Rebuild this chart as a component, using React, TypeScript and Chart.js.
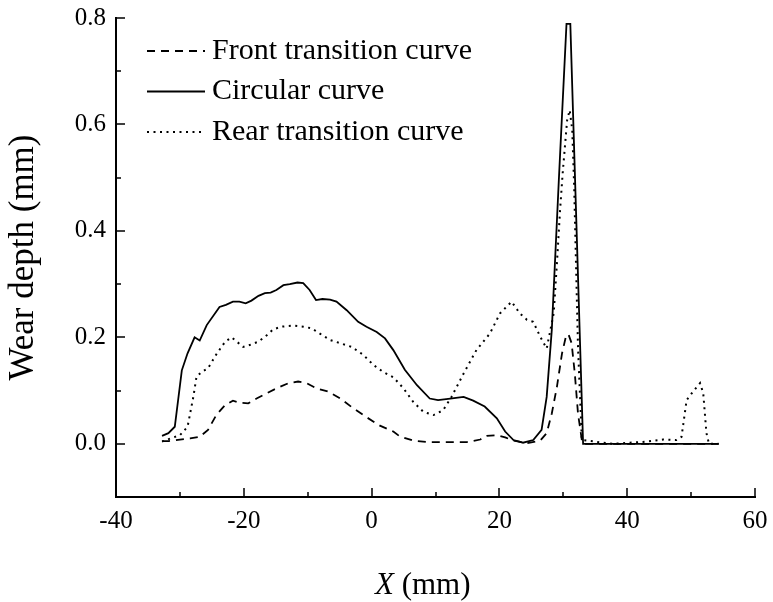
import React, { useEffect, useRef } from "react";
import { Chart, registerables } from "chart.js";

Chart.register(...registerables);

const FONT = '"Liberation Serif", "Times New Roman", serif';

// Front transition curve (dashed)
const frontX = [-32.8, -31.8, -30.0, -28.4, -26.9, -25.6, -24.3, -22.9, -21.7, -20.6, -19.3, -18.0, -16.4, -14.9, -13.0, -11.5, -10.2, -8.6, -6.8, -4.9, -2.9, -0.8, 1.3, 3.4, 4.4, 6.5, 9.1, 11.8, 14.9, 17.0, 18.0, 19.6, 20.9, 22.2, 24.3, 26.4, 27.4, 28.2, 29.0, 29.8, 30.4, 30.8, 31.3, 31.8, 32.3, 32.9, 33.1, 54.3];
const frontY = [0.005, 0.005, 0.008, 0.010, 0.013, 0.026, 0.054, 0.073, 0.081, 0.077, 0.076, 0.085, 0.095, 0.104, 0.114, 0.117, 0.114, 0.104, 0.098, 0.085, 0.067, 0.050, 0.034, 0.023, 0.014, 0.006, 0.003, 0.003, 0.003, 0.008, 0.015, 0.016, 0.012, 0.006, 0.001, 0.006, 0.020, 0.057, 0.107, 0.170, 0.201, 0.206, 0.189, 0.132, 0.057, 0.007, 0.0, 0.0];

// Circular curve (solid)
const circX = [-32.8, -31.8, -30.8, -29.7, -28.8, -27.7, -26.9, -25.8, -23.8, -22.8, -21.7, -20.7, -19.7, -18.8, -17.7, -16.7, -15.8, -14.9, -13.8, -12.8, -11.6, -10.7, -9.7, -8.7, -7.7, -6.5, -5.5, -3.9, -2.1, -0.8, 0.8, 2.1, 3.4, 5.2, 7.1, 9.1, 10.4, 12.3, 14.4, 15.9, 17.7, 19.6, 20.9, 22.2, 23.7, 25.3, 26.6, 27.4, 28.2, 29.3, 30.5, 31.1, 33.1, 54.3];
const circY = [0.015, 0.020, 0.032, 0.138, 0.170, 0.200, 0.194, 0.223, 0.257, 0.261, 0.267, 0.267, 0.264, 0.269, 0.278, 0.283, 0.284, 0.289, 0.298, 0.300, 0.303, 0.302, 0.289, 0.270, 0.272, 0.271, 0.267, 0.251, 0.229, 0.220, 0.210, 0.198, 0.176, 0.139, 0.110, 0.085, 0.082, 0.085, 0.088, 0.081, 0.070, 0.048, 0.023, 0.007, 0.002, 0.007, 0.026, 0.088, 0.214, 0.495, 0.789, 0.789, 0.0, 0.0];

// Rear transition curve (dotted)
const rearX = [-32.8, -31.5, -30.0, -28.8, -27.9, -27.4, -26.6, -25.6, -24.2, -22.9, -21.9, -21.1, -20.1, -19.0, -17.7, -16.4, -15.4, -14.1, -12.3, -10.7, -9.4, -8.1, -6.5, -4.9, -3.1, -1.3, 0.3, 1.8, 3.4, 5.0, 6.5, 8.1, 9.7, 11.2, 12.5, 14.4, 16.4, 18.5, 20.1, 21.9, 23.2, 24.3, 25.3, 26.4, 27.4, 28.5, 29.0, 29.5, 29.9, 30.6, 31.0, 31.4, 31.7, 32.3, 32.9, 37.8, 40.4, 43.0, 45.6, 47.7, 48.5, 49.3, 50.3, 51.4, 51.9, 52.4, 52.8, 54.3];
const rearY = [0.004, 0.010, 0.016, 0.032, 0.088, 0.126, 0.135, 0.142, 0.170, 0.192, 0.200, 0.192, 0.182, 0.186, 0.192, 0.204, 0.215, 0.220, 0.222, 0.220, 0.217, 0.207, 0.195, 0.189, 0.182, 0.167, 0.148, 0.135, 0.125, 0.104, 0.079, 0.060, 0.054, 0.063, 0.088, 0.132, 0.176, 0.207, 0.245, 0.267, 0.245, 0.233, 0.229, 0.201, 0.179, 0.245, 0.339, 0.440, 0.508, 0.608, 0.627, 0.590, 0.483, 0.182, 0.007, 0.0, 0.002, 0.004, 0.008, 0.007, 0.013, 0.082, 0.098, 0.114, 0.095, 0.020, 0.0, 0.0];

const seriesLabels = ["Front transition curve", "Circular curve", "Rear transition curve"];
const xAxisRange = [-40, 60];
const yAxisRange = [-0.1, 0.8];

const toPoints = (xs: number[], ys: number[]) => xs.map((x, i) => ({ x, y: ys[i] }));

const decorPlugin = {
  id: "decor",
  afterDraw(chart: any) {
    const ctx = chart.ctx as CanvasRenderingContext2D;
    const xs = chart.scales.x;
    const ys = chart.scales.y;
    const { left, bottom } = chart.chartArea;
    ctx.save();
    // inward tick marks
    ctx.strokeStyle = "#000";
    ctx.lineWidth = 1.5;
    ctx.setLineDash([]);
    ctx.beginPath();
    xs.ticks.forEach((t: any) => {
      const v = t.value;
      if (Math.abs(v - xs.min) < 1e-6) return;
      const p = Math.round(xs.getPixelForValue(v));
      const len = Math.round(v) % 20 === 0 ? 9 : 5;
      ctx.moveTo(p, bottom);
      ctx.lineTo(p, bottom - len);
    });
    ys.ticks.forEach((t: any) => {
      const v = t.value;
      if (Math.abs(v - ys.min) < 1e-6) return;
      const p = Math.round(ys.getPixelForValue(v));
      const len = Math.round(v * 10) % 2 === 0 ? 9 : 5;
      ctx.moveTo(left, p);
      ctx.lineTo(left + len, p);
    });
    ctx.stroke();

    // legend
    chart.data.datasets.forEach((ds: any, i: number) => {
      const y = 51 + i * 40.5;
      ctx.beginPath();
      ctx.strokeStyle = ds.borderColor;
      ctx.lineWidth = ds.borderWidth;
      ctx.setLineDash(ds.borderDash || []);
      ctx.moveTo(left + 31, y);
      ctx.lineTo(left + 89, y);
      ctx.stroke();
      ctx.setLineDash([]);
      ctx.fillStyle = "#000";
      ctx.font = `30px ${FONT}`;
      ctx.textBaseline = "middle";
      ctx.textAlign = "left";
      ctx.fillText(ds.label, left + 96, y);
    });

    // x axis title with italic X
    ctx.fillStyle = "#000";
    ctx.textBaseline = "alphabetic";
    ctx.textAlign = "left";
    ctx.font = `italic 31px ${FONT}`;
    const x0 = 375;
    const yb = 594;
    ctx.fillText("X", x0, yb);
    const w = ctx.measureText("X").width;
    ctx.font = `31px ${FONT}`;
    ctx.fillText(" (mm)", x0 + w, yb);
    ctx.restore();
  },
};

export default function App() {
  const ref = useRef<HTMLCanvasElement | null>(null);
  useEffect(() => {
    if (!ref.current) return;
    const chart = new Chart(ref.current, {
      type: "line",
      data: {
        datasets: [
          {
            label: seriesLabels[0],
            data: toPoints(frontX, frontY),
            borderColor: "#000",
            borderWidth: 1.8,
            borderDash: [8, 6],
            pointRadius: 0,
            tension: 0,
            fill: false,
          },
          {
            label: seriesLabels[1],
            data: toPoints(circX, circY),
            borderColor: "#000",
            borderWidth: 1.8,
            pointRadius: 0,
            tension: 0,
            fill: false,
          },
          {
            label: seriesLabels[2],
            data: toPoints(rearX, rearY),
            borderColor: "#000",
            borderWidth: 2,
            borderDash: [2, 4.5],
            pointRadius: 0,
            tension: 0,
            fill: false,
          },
        ],
      },
      options: {
        responsive: false,
        animation: false,
        events: [],
        layout: { padding: { left: 0, top: 18, right: 18, bottom: 0 } },
        plugins: {
          legend: { display: false },
          tooltip: { enabled: false },
          title: { display: false },
        },
        scales: {
          x: {
            type: "linear",
            min: xAxisRange[0],
            max: xAxisRange[1],
            grid: { display: false, drawTicks: false },
            border: { display: true, color: "#000", width: 2 },
            ticks: {
              stepSize: 10,
              autoSkip: false,
              maxRotation: 0,
              padding: 9,
              color: "#000",
              font: { family: FONT, size: 25 },
              callback: (v: any) => (Math.round(v) % 20 === 0 ? String(v) : ""),
            },
            title: { display: false },
            afterFit: (s: any) => {
              s.height = 105;
              s.paddingLeft = 0;
              s.paddingRight = 0;
              s.paddingTop = 0;
              s.paddingBottom = 0;
            },
          },
          y: {
            type: "linear",
            min: yAxisRange[0],
            max: yAxisRange[1],
            grid: { display: false, drawTicks: false },
            border: { display: true, color: "#000", width: 2 },
            ticks: {
              stepSize: 0.1,
              autoSkip: false,
              padding: 10,
              color: "#000",
              font: { family: FONT, size: 25 },
              callback: (v: any) => {
                const n = Math.round(v * 10);
                return n >= 0 && n % 2 === 0 ? (n / 10).toFixed(1) : "";
              },
            },
            title: {
              display: true,
              text: "Wear depth (mm)",
              color: "#000",
              font: { family: FONT, size: 35 },
              padding: { top: 3, bottom: 0 },
            },
            afterFit: (s: any) => {
              s.width = 116;
              s.paddingLeft = 0;
              s.paddingRight = 0;
              s.paddingTop = 0;
              s.paddingBottom = 0;
            },
          },
        },
      },
      plugins: [decorPlugin],
    });
    return () => chart.destroy();
  }, []);
  return (
    <div style={{ position: "fixed", left: 0, top: 0, width: 773, height: 602, background: "#fff" }}>
      <canvas ref={ref} width={773} height={602} style={{ display: "block", width: 773, height: 602 }} />
    </div>
  );
}
